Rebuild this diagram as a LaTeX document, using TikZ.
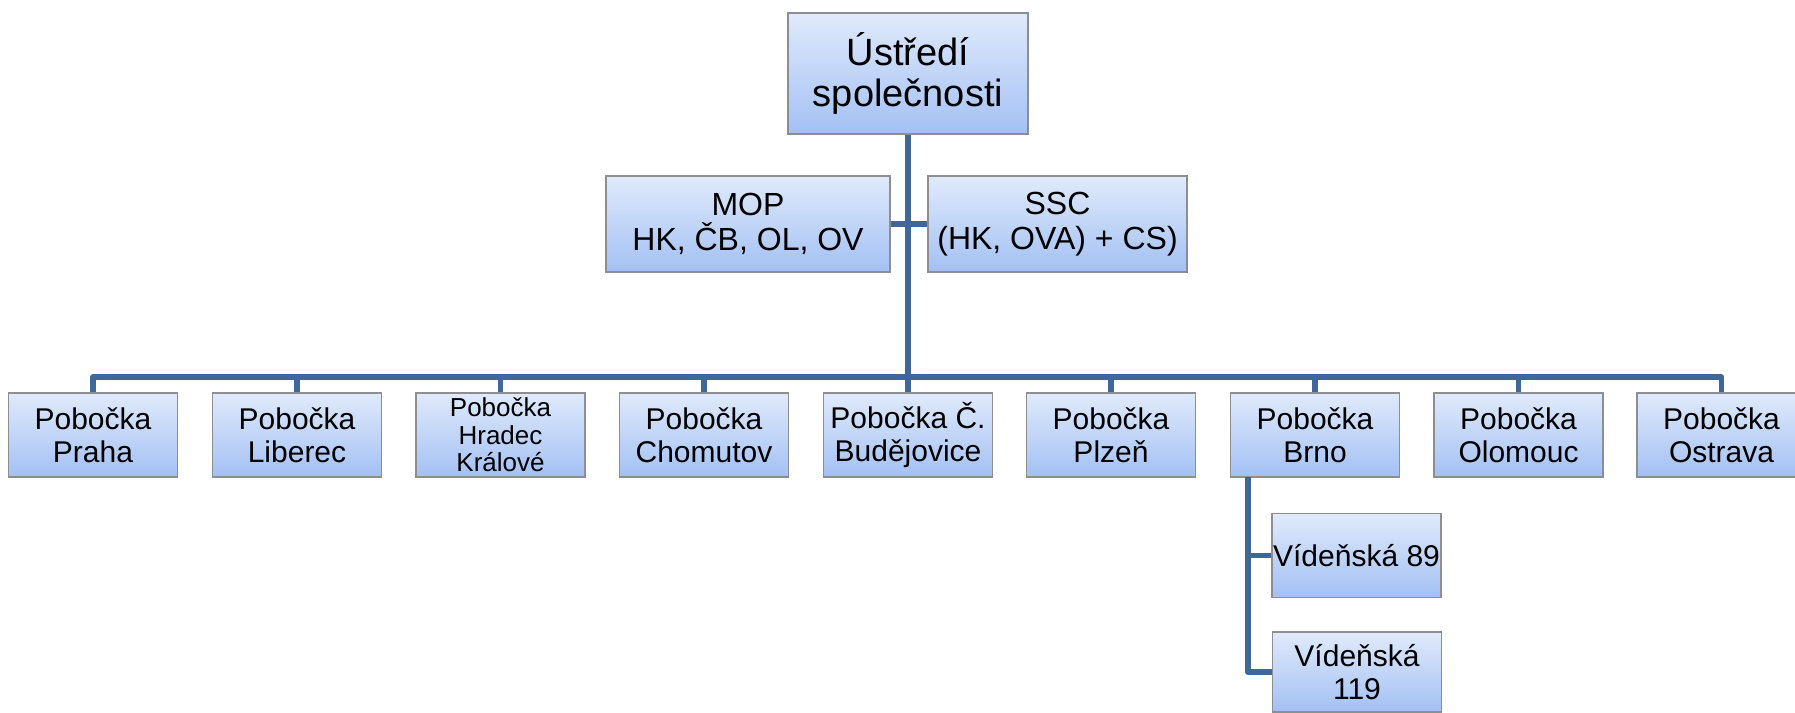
\documentclass[tikz,border=0pt]{standalone}
\usepackage{fontspec}
\setmainfont{Liberation Sans}
\definecolor{boxtop}{HTML}{E0EAFC}
\definecolor{boxbot}{HTML}{A3C0F4}
\definecolor{boxline}{HTML}{8C8E92}
\definecolor{conncol}{HTML}{3F6799}
\tikzset{
  box/.style={draw=boxline, line width=1.2pt, top color=boxtop, bottom color=boxbot,
    align=center, inner sep=0pt, text=black},
  branch/.style={box, minimum width=169pt, minimum height=84pt,
    font=\fontsize{30}{32.5}\selectfont},
  conn/.style={draw=conncol, line width=5.5pt, line join=round, line cap=butt}
}
\begin{document}
\begin{tikzpicture}[x=1pt,y=-1pt]
\useasboundingbox (0,0) rectangle (1795,712);
% top
\node[box, minimum width=240pt, minimum height=121pt, font=\fontsize{38}{41}\selectfont] (top) at (908,73.5) {Ústředí\\společnosti};
\node[box, minimum width=284pt, minimum height=96pt, font=\fontsize{32}{34.5}\selectfont] (mop) at (748,224) {MOP\\HK, ČB, OL, OV};
\node[box, minimum width=259pt, minimum height=96pt, font=\fontsize{32}{34.5}\selectfont] (ssc) at (1057.5,224) {SSC\\(HK, OVA) + CS)};
% branches
\node[branch] (praha) at (93,435) {Pobočka\\Praha};
\node[branch] (liberec) at (297,435) {Pobočka\\Liberec};
\node[branch, font=\fontsize{26}{27.5}\selectfont] (hradec) at (500.5,435) {Pobočka\\Hradec\\Králové};
\node[branch] (chomutov) at (704,435) {Pobočka\\Chomutov};
\node[branch] (budejovice) at (908,435) {Pobočka Č.\\Budějovice};
\node[branch] (plzen) at (1111,435) {Pobočka\\Plzeň};
\node[branch] (brno) at (1315,435) {Pobočka\\Brno};
\node[branch] (olomouc) at (1518.5,435) {Pobočka\\Olomouc};
\node[branch] (ostrava) at (1721.5,435) {Pobočka\\Ostrava};
% Brno sub-offices
\node[branch] (v89) at (1356.5,555.5) {Vídeňská 89};
\node[branch, minimum height=80pt] (v119) at (1357,672) {Vídeňská\\119};
% connectors
\coordinate (bus) at (0,377);
\coordinate (brnoline) at (1248,477);
\draw[conn] (top.south) -- (budejovice.north);
\draw[conn] (mop.east) -- (mop.east -| top.south);
\draw[conn] (ssc.west) -- (ssc.west -| top.south);
\draw[conn] (praha.north) -- (praha.north |- bus) -- (ostrava.north |- bus) -- (ostrava.north);
\foreach \b in {liberec,hradec,chomutov,plzen,brno,olomouc}
  \draw[conn] (\b.north) -- (\b.north |- bus);
\draw[conn] (brnoline) |- (v89.west);
\draw[conn] (brnoline) |- (v119.west);
\end{tikzpicture}
\end{document}
